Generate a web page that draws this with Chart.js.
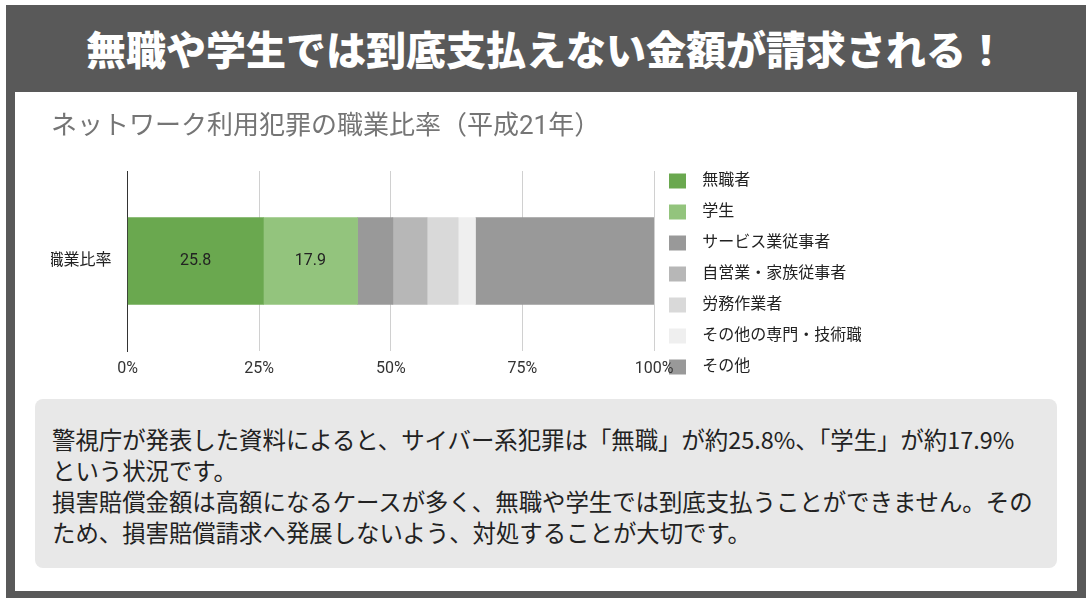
<!DOCTYPE html>
<html lang="ja">
<head>
<meta charset="utf-8">
<script src="https://cdn.jsdelivr.net/npm/chart.js@4/dist/chart.umd.min.js"></script>
<style>
  body { margin: 0; width: 1091px; height: 602px; background: #fff; position: relative; overflow: hidden;
         font-family: 'Noto Sans CJK JP', sans-serif; }
  .frame { position: absolute; left: 6px; top: 5px; width: 1080px; height: 593px; background: #595959; }
  .headline { position: absolute; left: 6px; top: 5px; width: 1080px; height: 87px; line-height: 87px;
              text-align: center; color: #fff; font-size: 40px; font-weight: 900; }
  .inner { position: absolute; left: 15px; top: 92px; width: 1062px; height: 499px; background: #fff; }
  .chart-box { position: absolute; left: 51px; top: 100px; width: 810px; height: 296px; }
  .note { position: absolute; left: 35px; top: 399px; width: 1022px; height: 169px; background: #e8e8e8; border-radius: 8px; }
  .note p { margin: 0; position: absolute; left: 17px; top: 25px; font-size: 23.4px; line-height: 31px; color: #222; white-space: nowrap; }
</style>
</head>
<body>
<div class="frame"></div>
<div class="headline">無職や学生では到底支払えない金額が請求される！</div>
<div class="inner"></div>
<div class="note">
  <p>警視庁が発表した資料によると、サイバー系犯罪は「無職」が約25.8%、「学生」が約17.9%<br>という状況です。<br>損害賠償金額は高額になるケースが多く、無職や学生では到底支払うことができません。その<br>ため、損害賠償請求へ発展しないよう、対処することが大切です。</p>
</div>
<div class="chart-box"><canvas id="jobChart"></canvas></div>

<script>
// data
const chartTitle = 'ネットワーク利用犯罪の職業比率（平成21年）';
const categories = ['職業比率'];
const seriesNames = ['無職者', '学生', 'サービス業従事者', '自営業・家族従事者', '労務作業者', 'その他の専門・技術職', 'その他'];
const seriesValues = [25.8, 17.9, 6.7, 6.5, 5.9, 3.3, 33.9];
const seriesColors = ['#6aa84f', '#93c47d', '#999999', '#b7b7b7', '#d9d9d9', '#efefef', '#999999'];
const tickLabels = ['0%', '25%', '50%', '75%', '100%'];
const labeledSeries = ['無職者', '学生'];

Chart.defaults.font.family = "Roboto, 'Noto Sans CJK JP', sans-serif";
Chart.defaults.color = '#222';

//value labels inside the green bars
const barLabels = {
  id: 'barLabels',
  afterDatasetsDraw(chart) {
    const ctx = chart.ctx;
    ctx.save();
    ctx.font = "16px Roboto, 'Noto Sans CJK JP', sans-serif";
    ctx.fillStyle = '#222';
    ctx.textAlign = 'center';
    ctx.textBaseline = 'middle';
    chart.data.datasets.forEach((ds, i) => {
      if (!labeledSeries.includes(ds.label)) return;
      chart.getDatasetMeta(i).data.forEach((bar, j) => {
        const p = bar.getProps(['x', 'y', 'base'], true);
        ctx.fillText(ds.data[j], (p.x + p.base) / 2, p.y);
      });
    });
    ctx.restore();
  }
};

const ctx = document.getElementById('jobChart').getContext('2d');
const jobChart = new Chart(ctx, {
  type: 'bar',
  data: {
    labels: categories,
    datasets: seriesNames.map((name, i) => ({
      label: name,
      data: [seriesValues[i]],
      backgroundColor: seriesColors[i],
      barThickness: 87
    }))
  },
  options: {
    indexAxis: 'y',
    responsive: true,
    maintainAspectRatio: false,
    animation: false,
    layout: { padding: 0 },
    scales: {
      x: {
        stacked: true,
        min: 0,
        max: 100,
        ticks: {
          stepSize: 25,
          padding: 8,
          color: '#333',
          font: { size: 16 },
          callback: function (value, index) {
            return tickLabels[index];
          }
        },
        grid: { color: '#d0d0d0', drawTicks: false },
        border: { display: false },
        afterFit: function (scale) { scale.height = 45; }
      },
      y: {
        stacked: true,
        ticks: { padding: 8, color: '#222', font: { size: 16 } },
        grid: { display: false },
        border: { color: '#333', width: 1 },
        afterFit: function (scale) { scale.width = 76.5; }
      }
    },
    plugins: {
      title: {
        display: true,
        text: chartTitle,
        align: 'start',
        color: '#757575',
        font: { size: 26, weight: 'normal' },
        padding: { top: 11.9, bottom: 27.9 }
      },
      legend: {
        position: 'right',
        align: 'start',
        maxWidth: 207,
        title: { display: true, text: '', font: { size: 12 }, padding: { top: 0, bottom: 43.6 } },
        labels: {
          boxWidth: 17,
          boxHeight: 15,
          padding: 15,
          color: '#222',
          font: { size: 16 },
          generateLabels: function (chart) {
            return Chart.defaults.plugins.legend.labels.generateLabels(chart)
              .map(item => ({ ...item, text: '\u2002' + item.text }));
          }
        }
      },
      tooltip: { enabled: false }
    }
  },
  plugins: [barLabels]
});
</script>
</body>
</html>
